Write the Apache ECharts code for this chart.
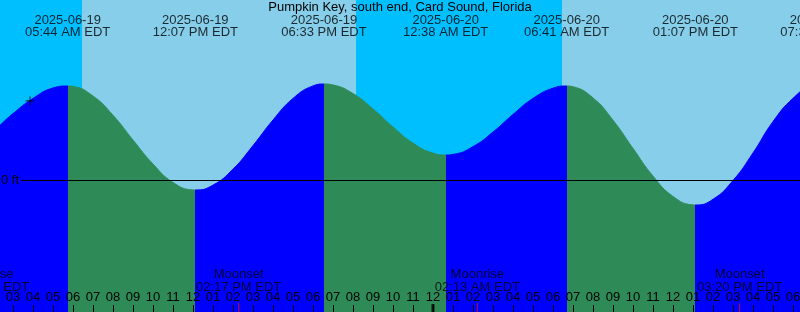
<!DOCTYPE html>
<html><head><meta charset="utf-8">
<script src="https://cdn.jsdelivr.net/npm/echarts@6.0.0/dist/echarts.min.js"></script>
<style>html,body{margin:0;padding:0;background:#00BFFF}#c{width:800px;height:312px}</style>
</head><body><div id="c"></div><script>
// ---- data (hours counted from 2025-06-19 00:00 EDT) ----
const chartTitle = 'Pumpkin Key, south end, Card Sound, Florida';
const curveHours = [1, 2, 3, 4, 5, 5.733, 6, 7, 8, 9, 10, 11, 12, 12.117, 13, 14, 15, 16, 17, 18, 18.55,
  19, 20, 21, 22, 23, 24, 24.633, 25, 26, 27, 28, 29, 30, 30.683, 31, 32, 33, 34, 35, 36, 37, 37.117,
  38, 39, 40, 41, 42, 43, 43.5, 44];
const curveFeet = [0.43, 0.61, 0.83, 1.02, 1.15, 1.175, 1.17, 1.05, 0.81, 0.50, 0.20, -0.03, -0.124, -0.125,
  -0.064, 0.136, 0.43, 0.75, 1.02, 1.176, 1.2, 1.188, 1.081, 0.889, 0.663, 0.461, 0.336, 0.3125,
  0.32, 0.417, 0.599, 0.82, 1.02, 1.148, 1.175, 1.166, 1.026, 0.748, 0.395, 0.05, -0.205, -0.311, -0.3125,
  -0.241, -0.006, 0.338, 0.73, 1.021, 1.197, 1.22, 1.2];
const tideHours = [5.733, 12.117, 18.55, 24.633, 30.683, 37.117, 43.5];
const tideKinds = ['high', 'low', 'high', 'low', 'high', 'low', 'high'];
const tideDates = ['2025-06-19', '2025-06-19', '2025-06-19', '2025-06-20', '2025-06-20', '2025-06-20', '2025-06-20'];
const tideTimes = ['05:44 AM EDT', '12:07 PM EDT', '06:33 PM EDT', '12:38 AM EDT', '06:41 AM EDT', '01:07 PM EDT', '07:30 PM EDT'];
const sunriseHours = [6.45, 30.45];
const sunsetHours = [20.15, 44.15];
const moonHours = [1.683, 14.283, 26.217, 39.333];
const moonNames = ['Moonrise', 'Moonset', 'Moonrise', 'Moonset'];
const moonTimes = ['01:41 AM EDT', '02:17 PM EDT', '02:13 AM EDT', '03:20 PM EDT'];
const midnightHours = [24];
const markerHour = [3.85];
const markerFeet = [0.99];
const zeroLineLabel = '0 ft';
const zeroLineStartHour = 3.4;
const xMin = 1, xMax = 44, yMin = -1.65, yMax = 2.25;

// ---- colours ----
const NIGHT = '#00BFFF', DAY = '#87CEEB', FLOOD = '#0000FF', EBB = '#2E8B57';
const FONT = 'Liberation Sans';
const FS = 13;

const curveData = curveHours.map((h, i) => [h, curveFeet[i]]);
const pieces = [];
let prev = xMin - 10;
tideHours.forEach((h, i) => {
  pieces.push({ min: prev, max: h, color: tideKinds[i] === 'high' ? FLOOD : EBB });
  prev = h;
});
pieces.push({ min: prev, max: xMax + 10, color: tideKinds[tideKinds.length - 1] === 'high' ? EBB : FLOOD });

const hourLabel = v => { const h = Math.round(v) % 12; return String(h === 0 ? 12 : h).padStart(2, '0'); };

const chart = echarts.init(document.getElementById('c'), null, { renderer: 'canvas' });
chart.setOption({
  animation: false,
  backgroundColor: NIGHT,
  textStyle: { fontFamily: FONT },
  title: {
    text: chartTitle, left: 'center', top: 1, padding: 0,
    textStyle: { fontFamily: FONT, fontSize: FS, fontWeight: 'normal', color: '#000', lineHeight: 13 }
  },
  grid: { left: 20 * xMin - 47, top: 0, width: 20 * (xMax - xMin), height: 312,
    containLabel: false, outerBoundsMode: 'none' },
  xAxis: {
    type: 'value', min: xMin, max: xMax, interval: 1, z: 20, position: 'bottom',
    axisLine: { show: false, onZero: false }, splitLine: { show: false },
    axisTick: { show: true, inside: true, length: 7, lineStyle: { color: '#000', width: 1 } },
    axisLabel: { show: true, inside: true, margin: 8, interval: 0, fontSize: FS, color: '#000',
      fontFamily: FONT, formatter: hourLabel, showMinLabel: true, showMaxLabel: true, hideOverlap: false }
  },
  yAxis: { type: 'value', min: yMin, max: yMax, show: false, splitLine: { show: false } },
  visualMap: { type: 'piecewise', show: false, dimension: 0, seriesIndex: 0, pieces: pieces },
  series: [
    {
      type: 'line', data: curveData, smooth: true, symbol: 'none', z: 2,
      lineStyle: { width: 1 }, areaStyle: { opacity: 1, origin: 'start' },
      markArea: {
        silent: true, z: 1,
        itemStyle: { color: DAY, opacity: 1 },
        data: sunriseHours.map((s, i) => [{ xAxis: s }, { xAxis: sunsetHours[i] }])
      },
      markLine: {
        silent: true, symbol: 'none', z: 5,
        lineStyle: { color: '#000', width: 1, type: 'solid' },
        label: { show: true, position: 'start', distance: 2, formatter: zeroLineLabel, color: '#000', fontSize: FS, fontFamily: FONT },
        data: [[{ coord: [zeroLineStartHour, 0] }, { coord: [xMax, 0] }]]
      }
    },
    {
      type: 'scatter', z: 10, clip: false, symbolSize: 0, silent: true,
      data: tideHours.map(h => [h, yMax]),
      label: {
        show: true, position: 'bottom', distance: 14, color: '#000', fontSize: FS, lineHeight: 12, fontFamily: FONT,
        formatter: p => tideDates[p.dataIndex] + '\n' + tideTimes[p.dataIndex]
      }
    },
    {
      type: 'scatter', z: 10, clip: false, symbolSize: 0, silent: true,
      data: moonHours.map(h => [h, yMin]),
      label: {
        show: true, position: 'top', distance: 18.5, color: '#000', fontSize: FS, lineHeight: 12.5, fontFamily: FONT,
        formatter: p => moonNames[p.dataIndex] + '\n' + moonTimes[p.dataIndex]
      }
    },
    {
      type: 'scatter', z: 11, clip: false, silent: true, symbol: 'rect', symbolSize: [1, 9],
      symbolOffset: [0, '-50%'], itemStyle: { color: '#FF0000' },
      data: moonHours.map(h => [h, yMin])
    },
    {
      type: 'scatter', z: 11, clip: false, silent: true, symbol: 'rect', symbolSize: [3, 8],
      symbolOffset: [0, '-50%'], itemStyle: { color: '#000' },
      data: midnightHours.map(h => [h, yMin])
    },
    {
      type: 'scatter', z: 11, clip: false, silent: true,
      symbol: 'path://M0,4.5L9,4.5M4.5,0L4.5,9', symbolSize: 9,
      itemStyle: { color: 'none', borderColor: '#000', borderWidth: 1 },
      data: markerHour.map((h, i) => [h, markerFeet[i]])
    }
  ]
});
</script></body></html>
